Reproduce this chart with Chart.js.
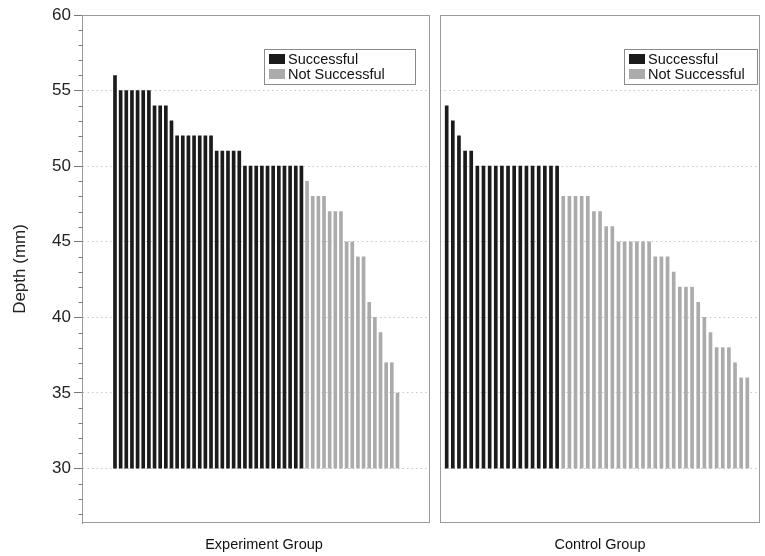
<!DOCTYPE html>
<html>
<head>
<meta charset="utf-8">
<script src="https://cdn.jsdelivr.net/npm/chart.js@4.4.1/dist/chart.umd.min.js"></script>
<style>
  html, body { margin: 0; padding: 0; background: #fff; }
  body { width: 765px; height: 556px; overflow: hidden; position: relative; }
  canvas { position: absolute; top: 0; }
  #left { left: 0; }
  #right { left: 436px; }
</style>
</head>
<body>
<canvas id="left" width="434" height="556"></canvas>
<canvas id="right" width="328" height="556"></canvas>
<script>
// ── Data (depth in mm, one bar per subject, sorted) ─────────────────
const expSuccess = [56, 55, 55, 55, 55, 55, 55, 54, 54, 54, 53,
  52, 52, 52, 52, 52, 52, 52, 51, 51, 51, 51, 51,
  50, 50, 50, 50, 50, 50, 50, 50, 50, 50, 50];
const expFail = [49, 48, 48, 48, 47, 47, 47, 45, 45, 44, 44, 41, 40, 39, 37, 37, 35];

const ctrlSuccess = [54, 53, 52, 51, 51,
  50, 50, 50, 50, 50, 50, 50, 50, 50, 50, 50, 50, 50, 50];
const ctrlFail = [48, 48, 48, 48, 48, 47, 47, 46, 46, 45, 45, 45, 45, 45, 45,
  44, 44, 44, 43, 42, 42, 42, 41, 40, 39, 38, 38, 38, 37, 36, 36];

const groupNames = ["Experiment Group", "Control Group"];
const seriesNames = ["Successful", "Not Successful"];
const yTitle = "Depth (mm)";
const yMin = 26.4;
const yMax = 60;
const baseDepth = 30;

const FONT = '"Liberation Sans", Arial, Helvetica, sans-serif';
const BLACK = "#1b1b1b";
const GREY = "#ababab";

// ── Helpers ────────────────────────────────────────────────────────

function toPoints(values, start) {
  return values.map(function (v, i) { return { x: start + i + 1, y: v }; });
}

function makeDatasets(success, fail) {
  return [
    { label: seriesNames[0], data: toPoints(success, 0), backgroundColor: BLACK },
    { label: seriesNames[1], data: toPoints(fail, success.length), backgroundColor: GREY },
  ].map(function (d) {
    d.base = baseDepth;
    d.barThickness = 3;
    d.grouped = false;
    d.borderWidth = 0;
    return d;
  });
}

// Panel frame, minor ticks, boxed legend and group label
const panelPlugin = {
  id: "panel",
  afterDraw: function (chart, args, opts) {
    const ctx = chart.ctx;
    const a = chart.chartArea;
    const y = chart.scales.y;
    ctx.save();

    // frame
    ctx.strokeStyle = "#9a9a9a";
    ctx.lineWidth = 1;
    const l = Math.round(a.left) + 0.5, t = Math.round(a.top) + 0.5;
    const r = Math.round(a.right) - 0.5, b = Math.round(a.bottom) - 0.5;
    ctx.strokeRect(l, t, r - l, b - t);

    // minor ticks on the depth axis
    if (opts.minorTicks) {
      ctx.strokeStyle = "#777";
      ctx.beginPath();
      for (let v = Math.ceil(yMin); v <= yMax; v++) {
        if (v % 5 === 0) continue;
        const py = Math.round(y.getPixelForValue(v)) + 0.5;
        ctx.moveTo(l - 4, py);
        ctx.lineTo(l, py);
      }
      ctx.stroke();
    }

    // legend box
    const bx = Math.round(a.left) + opts.legendLeft + 0.5, by = Math.round(a.top) + 34 + 0.5;
    ctx.fillStyle = "#fff";
    ctx.fillRect(bx, by, opts.legendWidth, 35);
    ctx.strokeStyle = "#8a8a8a";
    ctx.strokeRect(bx, by, opts.legendWidth, 35);
    ctx.font = "14.5px " + FONT;
    ctx.textBaseline = "middle";
    ctx.textAlign = "left";
    chart.data.datasets.forEach(function (ds, i) {
      const cy = by + 9.5 + i * 15;
      ctx.fillStyle = ds.backgroundColor;
      ctx.fillRect(bx + 4.5, cy - 5, 16, 10);
      ctx.fillStyle = "#111";
      ctx.fillText(ds.label, bx + 23.5, cy + 0.5);
    });

    // group label under the panel
    ctx.font = "14.5px " + FONT;
    ctx.textAlign = "center";
    ctx.fillStyle = "#111";
    ctx.fillText(opts.label, a.left + opts.labelOffset, 545);
    ctx.restore();
  },
};

function makeChart(id, success, fail, xMin, xMax, isLeft, panelOpts) {
  const canvas = document.getElementById(id);
  return new Chart(canvas.getContext("2d"), {
    type: "bar",
    data: { datasets: makeDatasets(success, fail) },
    plugins: [panelPlugin],
    options: {
      responsive: false,
      animation: false,
      devicePixelRatio: 1,
      layout: { padding: { left: isLeft ? 0 : 4, right: 4, top: 15, bottom: 33 } },
      plugins: {
        legend: { display: false },
        tooltip: { enabled: false },
        panel: Object.assign({ minorTicks: isLeft }, panelOpts),
      },
      scales: {
        x: {
          type: "linear",
          min: xMin,
          max: xMax,
          offset: false,
          display: false,
        },
        y: {
          min: yMin,
          max: yMax,
          afterBuildTicks: function (s) {
            s.ticks = s.ticks.filter(function (t) { return t.value % 5 === 0; });
          },
          afterFit: function (s) { s.width = isLeft ? 82 : 0; },
          ticks: {
            display: isLeft,
            stepSize: 5,
            color: "#222",
            padding: 3,
            font: { family: FONT, size: 17 },
          },
          grid: {
            drawTicks: isLeft,
            tickLength: 8,
            tickColor: "#777",
            color: function (c) {
              return c.tick && c.tick.value < yMax ? "#c8c8c8" : "rgba(0,0,0,0)";
            },
          },
          border: { display: isLeft, color: "#8a8a8a", dash: [1.5, 3] },
          title: {
            display: isLeft,
            text: yTitle,
            color: "#222",
            font: { family: FONT, size: 17 },
            padding: { top: 10, bottom: 0 },
          },
        },
      },
    },
  });
}

makeChart("left", expSuccess, expFail, -4.84, 56.76, true,
  { label: groupNames[0], labelOffset: 182, legendLeft: 182, legendWidth: 151 });
makeChart("right", ctrlSuccess, ctrlFail, -0.09, 52.07, false,
  { label: groupNames[1], labelOffset: 160, legendLeft: 184, legendWidth: 133 });
</script>
</body>
</html>
